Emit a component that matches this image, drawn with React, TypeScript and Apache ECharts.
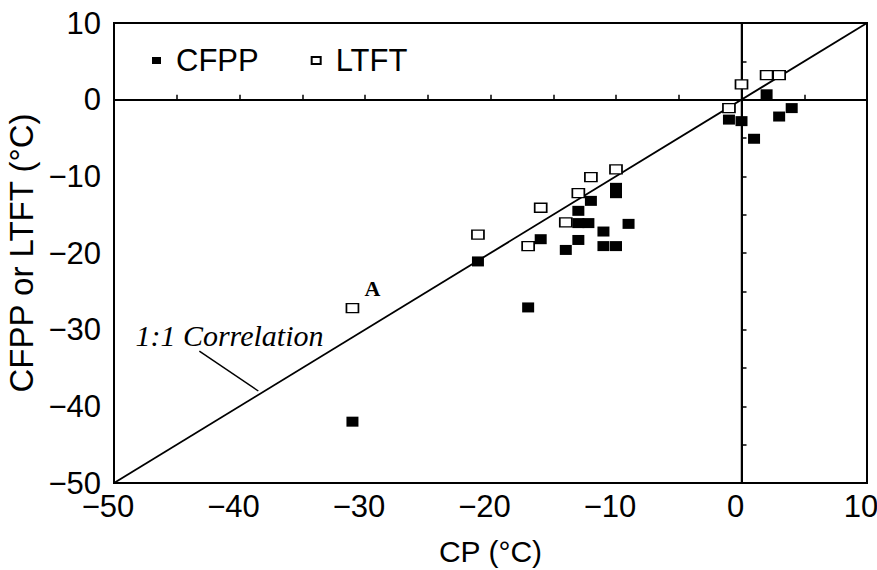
import React, { useEffect, useRef } from "react";
import * as echarts from "echarts";

const cfpp: [number, number][] = [
  [-31, -42], [-21, -21.1], [-17, -27.1], [-16, -18.2], [-14, -19.6],
  [-13, -14.5], [-13, -16.1], [-13, -18.3], [-12, -13.2], [-12.2, -16.1],
  [-11, -17.2], [-11, -19.1], [-10, -19.1], [-10, -11.5], [-10, -12.2],
  [-9, -16.2], [-1, -2.6], [0, -2.8], [1, -5.1], [2, 0.7], [3, -2.2], [4, -1.1],
];
const ltft: [number, number][] = [
  [-31, -27.2], [-21, -17.6], [-17, -19.1], [-16, -14.1], [-14, -16],
  [-13, -12.2], [-12, -10.1], [-10, -9.1], [-1, -1.1], [0, 2], [2, 3.2], [3, 3.2],
];
const oneToOne: [number, number][] = [[-50, -50], [10, 10]];
const zeroH: [number, number][] = [[-50, 0], [10, 0]];
const zeroV: [number, number][] = [[0, -50], [0, 10]];
const leader: [number, number][] = [[-43.2, -32.8], [-38.5, -38.0]];
const corrLabelPos: [number, number] = [-40.8, -30.8];
const aLabelPos: [number, number] = [-29.4, -24.6];
const xMin = -50, xMax = 10, yMin = -50, yMax = 10, step = 10;

export default function App() {
  const ref = useRef<HTMLDivElement>(null);
  useEffect(() => {
    if (!ref.current) return;
    document.body.style.margin = "0";
    document.body.style.overflow = "hidden";
    const chart = echarts.init(ref.current, undefined, { renderer: "svg", width: 877, height: 570 });
    const sans = "'Liberation Sans', Arial, sans-serif";
    const serif = "'Liberation Serif', 'Times New Roman', serif";
    const lineSeries = (d: [number, number][], w: number) => ({
      type: "line",
      data: d,
      symbol: "none",
      silent: true,
      lineStyle: { color: "#000", width: w },
      z: 1,
    });
    const fmt = (v: number) => (v < 0 ? "\u2212" + Math.abs(v) : String(v));
    chart.setOption({
      animation: false,
      backgroundColor: "#fff",
      grid: {
        left: 114, right: 10, top: 23, bottom: 87,
        outerBoundsMode: "none", containLabel: false,
        show: true, borderColor: "#000", borderWidth: 2,
      },
      legend: {
        left: 152,
        top: 45,
        padding: 0,
        itemWidth: 9,
        itemHeight: 7,
        itemGap: 52,
        data: [
          { name: "CFPP", icon: "rect" },
          { name: "LTFT", icon: "rect" },
        ],
        textStyle: { fontFamily: sans, fontSize: 31, color: "#000", padding: [0, 0, 0, 10] },
      },
      xAxis: {
        type: "value",
        min: xMin,
        max: xMax,
        interval: step,
        name: "CP (°C)",
        nameLocation: "middle",
        nameGap: 52,
        nameTextStyle: { fontFamily: sans, fontSize: 30, color: "#000", lineHeight: 32 },
        axisLine: { lineStyle: { color: "#000", width: 2 } },
        axisTick: { inside: true, length: 5, lineStyle: { color: "#000", width: 1.5 } },
        minorTick: { show: true, splitNumber: 2, length: 5, lineStyle: { color: "#000", width: 1.5 } },
        splitLine: { show: false },
        axisLabel: { fontFamily: sans, fontSize: 31, color: "#000", margin: 11, lineHeight: 24, padding: [0, 12, 0, 0], formatter: fmt },
      },
      yAxis: {
        type: "value",
        min: yMin,
        max: yMax,
        interval: step,
        name: "CFPP or LTFT (°C)",
        nameLocation: "middle",
        nameGap: 59,
        nameTextStyle: { fontFamily: sans, fontSize: 33, color: "#000" },
        axisLine: { lineStyle: { color: "#000", width: 2 } },
        axisTick: { inside: true, length: 5, lineStyle: { color: "#000", width: 1.5 } },
        minorTick: { show: true, splitNumber: 2, length: 5, lineStyle: { color: "#000", width: 1.5 } },
        splitLine: { show: false },
        axisLabel: { fontFamily: sans, fontSize: 31, color: "#000", margin: 13, lineHeight: 22, formatter: fmt },
      },
      series: [
        lineSeries(oneToOne, 1.8),
        lineSeries(zeroH, 1.5),
        lineSeries(zeroV, 1.5),
        lineSeries(leader, 1.5),
        {
          type: "scatter",
          silent: true,
          symbolSize: 0,
          itemStyle: { color: "#000", opacity: 1 },
          data: [
            { value: corrLabelPos, label: { formatter: "1:1 Correlation", fontFamily: serif, fontStyle: "italic", fontSize: 30, color: "#000" } },
            { value: aLabelPos, label: { formatter: "A", fontFamily: serif, fontWeight: "bold", fontSize: 22, color: "#000" } },
          ],
          label: { show: true, position: "inside", color: "#000", opacity: 1 },
          z: 3,
        },
        {
          name: "CFPP",
          type: "scatter",
          symbol: "rect",
          symbolSize: [12, 10],
          data: cfpp,
          itemStyle: { color: "#000", borderWidth: 0, opacity: 1 },
          z: 4,
        },
        {
          name: "LTFT",
          type: "scatter",
          symbol: "rect",
          symbolSize: [12, 9],
          data: ltft,
          itemStyle: { color: "#fff", borderColor: "#000", borderWidth: 1.5, opacity: 1 },
          z: 5,
        },
      ],
    });
    return () => chart.dispose();
  }, []);
  return <div ref={ref} style={{ position: "fixed", left: 0, top: 0, width: 877, height: 570 }} />;
}
